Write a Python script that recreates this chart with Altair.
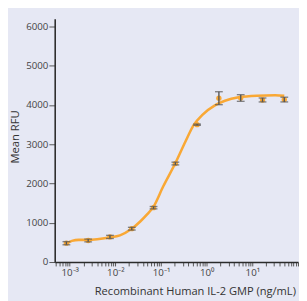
import altair as alt
import pandas as pd

# measured points (3-fold dilutions)
conc = [0.000847, 0.00254, 0.00762, 0.0229, 0.0686, 0.206, 0.617, 1.85, 5.56, 16.7, 50.0]
mean_rfu = [480, 550, 640, 850, 1385, 2510, 3500, 4175, 4180, 4130, 4140]
err = [40, 35, 40, 35, 30, 35, 15, 165, 85, 50, 60]

# fitted curve
curve_x = [0.00085, 0.00112, 0.00158, 0.0024, 0.004, 0.0074, 0.0126, 0.0224, 0.0355,
           0.0501, 0.0676, 0.112, 0.204, 0.347, 0.525, 0.794, 1.51, 2.51, 5.01, 12.6, 31.6, 50.0]
curve_y = [470, 540, 565, 565, 580, 625, 680, 840, 1040,
           1220, 1400, 1930, 2510, 3086, 3500, 3745, 3993, 4110, 4200, 4240, 4250, 4235]

pts = pd.DataFrame({"x": conc, "y": mean_rfu, "lo": [m - e for m, e in zip(mean_rfu, err)],
                    "hi": [m + e for m, e in zip(mean_rfu, err)]})
crv = pd.DataFrame({"x": curve_x, "y": curve_y})

tick_vals = [float(f"{k}e{n}") for n in range(-4, 3) for k in range(1, 10)]
tick_vals = [v for v in tick_vals if 0.00047 <= v <= 100]

label_expr = ("datum.value == 0.001 ? '10⁻³' : datum.value == 0.01 ? '10⁻²' : "
              "datum.value == 0.1 ? '10⁻¹' : datum.value == 1 ? '10⁰' : "
              "datum.value == 10 ? '10¹' : ''")

xscale = alt.Scale(type="log", domain=[0.00047, 100], nice=False)
yscale = alt.Scale(domain=[0, 6200], nice=False)

xaxis = alt.Axis(values=tick_vals, labelExpr=label_expr, grid=False, tickSize=4,
                 labelPadding=2, title="Recombinant Human IL-2 GMP (ng/mL)",
                 titleX=144, titleY=33, titleBaseline="alphabetic", titleAlign="center",
                 titleFontSize=11.4, labelFlush=False, labelOverlap=False)
yaxis = alt.Axis(values=[0, 1000, 2000, 3000, 4000, 5000, 6000], format="d", grid=False, tickSize=6,
                 labelPadding=1, title="Mean RFU", titleX=-40, titleY=121,
                 titleBaseline="middle", titleAlign="center", titleAngle=-90, titleFontSize=11.5)

base = alt.Chart(crv)

line = base.mark_line(color="#f9a835", strokeWidth=2.6, interpolate="monotone").encode(
    x=alt.X("x:Q", scale=xscale, axis=xaxis),
    y=alt.Y("y:Q", scale=yscale, axis=yaxis),
)

dots = alt.Chart(pts).mark_circle(color="#f9a835", size=30, opacity=1).encode(
    x=alt.X("x:Q", scale=xscale), y=alt.Y("y:Q", scale=yscale))

bars = alt.Chart(pts).mark_rule(color="#555555", strokeWidth=1.4).encode(
    x=alt.X("x:Q", scale=xscale), y=alt.Y("lo:Q", scale=yscale), y2="hi:Q")

caps_lo = alt.Chart(pts).mark_tick(color="#555555", thickness=1.4, size=8, orient="horizontal").encode(
    x=alt.X("x:Q", scale=xscale), y=alt.Y("lo:Q", scale=yscale))
caps_hi = alt.Chart(pts).mark_tick(color="#555555", thickness=1.4, size=8, orient="horizontal").encode(
    x=alt.X("x:Q", scale=xscale), y=alt.Y("hi:Q", scale=yscale))

chart = alt.layer(line, dots, bars, caps_lo, caps_hi).properties(
    width=250, height=250, autosize="none",
    padding={"left": 48, "top": 7, "right": 1, "bottom": 36},
    background="#e6e8f4",
).configure_view(stroke=None).configure_axis(
    domainColor="#2b2b2b", domainWidth=1.6, tickColor="#555555", tickWidth=1,
    labelFont="Open Sans", labelFontSize=10, labelColor="#444444",
    titleFont="Open Sans", titleFontSize=12, titleFontWeight="normal", titleColor="#333333",
)

chart.save("out.html", embed_options={"renderer": "svg", "actions": False})
